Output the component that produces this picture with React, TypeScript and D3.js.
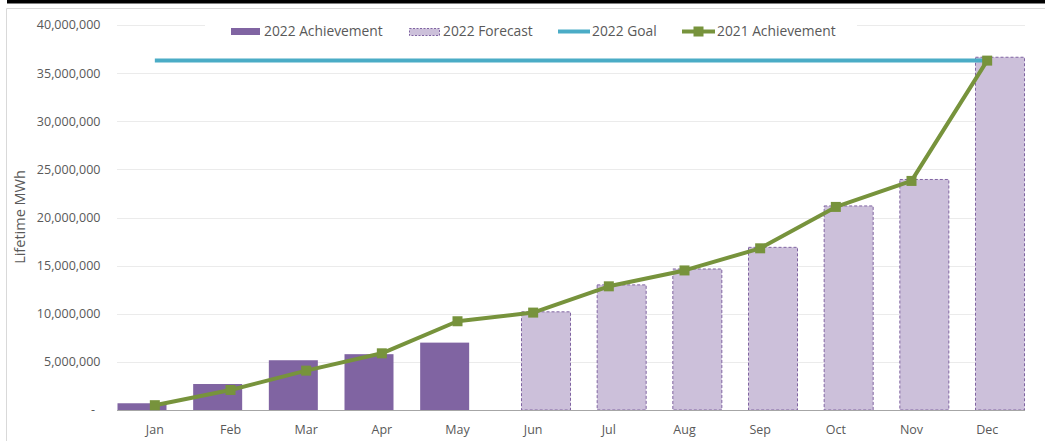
import React from 'react';
import * as d3 from 'd3';

const months = ['Jan', 'Feb', 'Mar', 'Apr', 'May', 'Jun', 'Jul', 'Aug', 'Sep', 'Oct', 'Nov', 'Dec'];
const achievement2022 = [700000, 2700000, 5170000, 5800000, 7000000, null, null, null, null, null, null, null];
const forecast2022 = [null, null, null, null, null, 10200000, 13000000, 14650000, 16900000, 21200000, 23950000, 36650000];
const achievement2021 = [500000, 2080000, 4090000, 5890000, 9220000, 10120000, 12850000, 14500000, 16800000, 21100000, 23800000, 36300000];
const goal2022 = 36300000;
const yTicks = [0, 5000000, 10000000, 15000000, 20000000, 25000000, 30000000, 35000000, 40000000];

const W = 1045;
const H = 441;
const FONT = '"Open Sans", sans-serif';
const TXT = '#595959';
const PURPLE = '#8064A2';
const LILAC = '#CCC0DA';
const TEAL = '#4BACC6';
const GREEN = '#77933C';

export default function App() {
  const x = d3.scaleBand<string>().domain(months).range([117, 1025]).padding(0);
  const y = d3.scaleLinear().domain([0, 40000000]).range([410, 25]);
  const bw = x.bandwidth();
  const barW = 49;
  const cx = (m: string) => (x(m) as number) + bw / 2;
  const fmt = d3.format(',');

  const line = d3.line<number>()
    .x((_, i) => cx(months[i]))
    .y(d => y(d));

  return (
    <svg width={W} height={H} style={{ position: 'absolute', left: 0, top: 0, background: '#fff' }}>
      {/* cadre */}
      <rect x={0} y={0} width={W} height={H} fill="#fff" />
      <rect x={7} y={0} width={W - 7} height={3.5} fill="#000" />
      <path d={`M6.5,${H} V8.5 H${W}`} fill="none" stroke="#d9d9d9" strokeWidth={1} />

      {/* grille */}
      {yTicks.slice(1).map(t => (
        <line key={t} x1={117} x2={1025} y1={Math.round(y(t)) + 0.5} y2={Math.round(y(t)) + 0.5} stroke="#ebebeb" strokeWidth={1} />
      ))}

      {/* étiquettes axe Y */}
      {yTicks.map(t => (
        <text key={t} x={t === 0 ? 95 : 100.5} y={y(t)} dy="0.35em" textAnchor="end" fill={TXT}
          fontFamily={FONT} fontSize={12.5}>{t === 0 ? '-' : fmt(t)}</text>
      ))}
      <text transform={`translate(25,217) rotate(-90)`} textAnchor="middle" fill={TXT}
        fontFamily={FONT} fontSize={14.5}>Lifetime MWh</text>

      {/* barres */}
      {achievement2022.map((v, i) => v == null ? null : (
        <rect key={'a' + i} x={(x(months[i]) as number) + 0.5} y={y(v)} width={barW} height={y(0) - y(v)} fill={PURPLE} />
      ))}
      {forecast2022.map((v, i) => v == null ? null : (
        <rect key={'f' + i} x={(x(months[i]) as number) + bw - barW - 0.5} y={y(v)} width={barW} height={y(0) - y(v)}
          fill={LILAC} stroke={PURPLE} strokeWidth={1} strokeDasharray="3,2" />
      ))}

      {/* axe X */}
      <line x1={117} x2={1025} y1={410.5} y2={410.5} stroke="#a6a6a6" strokeWidth={1} />
      {months.map(m => (
        <text key={m} x={cx(m)} y={430} dy="0.35em" textAnchor="middle" fill={TXT}
          fontFamily={FONT} fontSize={12.5}>{m}</text>
      ))}

      {/* objectif */}
      <line x1={cx('Jan')} x2={cx('Dec')} y1={y(goal2022)} y2={y(goal2022)} stroke={TEAL} strokeWidth={4} />

      {/* ligne 2021 */}
      <path d={line(achievement2021) || ''} fill="none" stroke={GREEN} strokeWidth={4} strokeLinejoin="round" />
      {achievement2021.map((v, i) => (
        <rect key={'p' + i} x={cx(months[i]) - 5} y={y(v) - 5} width={10} height={10} fill={GREEN} />
      ))}

      {/* légende */}
      <rect x={205} y={20} width={652} height={23} fill="#fff" />
      <rect x={231} y={28} width={29} height={7} fill={PURPLE} />
      <text x={264} y={31.5} dy="0.35em" fill={TXT} fontFamily={FONT} fontSize={13.8}>2022 Achievement</text>
      <rect x={409.5} y={28.5} width={30} height={7} fill={LILAC} stroke={PURPLE} strokeWidth={1} strokeDasharray="2,1.5" />
      <text x={443} y={31.5} dy="0.35em" fill={TXT} fontFamily={FONT} fontSize={13.8}>2022 Forecast</text>
      <line x1={558} x2={590} y1={31.5} y2={31.5} stroke={TEAL} strokeWidth={4} />
      <text x={592} y={31.5} dy="0.35em" fill={TXT} fontFamily={FONT} fontSize={13.8}>2022 Goal</text>
      <line x1={682} x2={715} y1={31.5} y2={31.5} stroke={GREEN} strokeWidth={4} />
      <rect x={693.5} y={26.5} width={10} height={10} fill={GREEN} />
      <text x={717} y={31.5} dy="0.35em" fill={TXT} fontFamily={FONT} fontSize={13.8}>2021 Achievement</text>
    </svg>
  );
}
